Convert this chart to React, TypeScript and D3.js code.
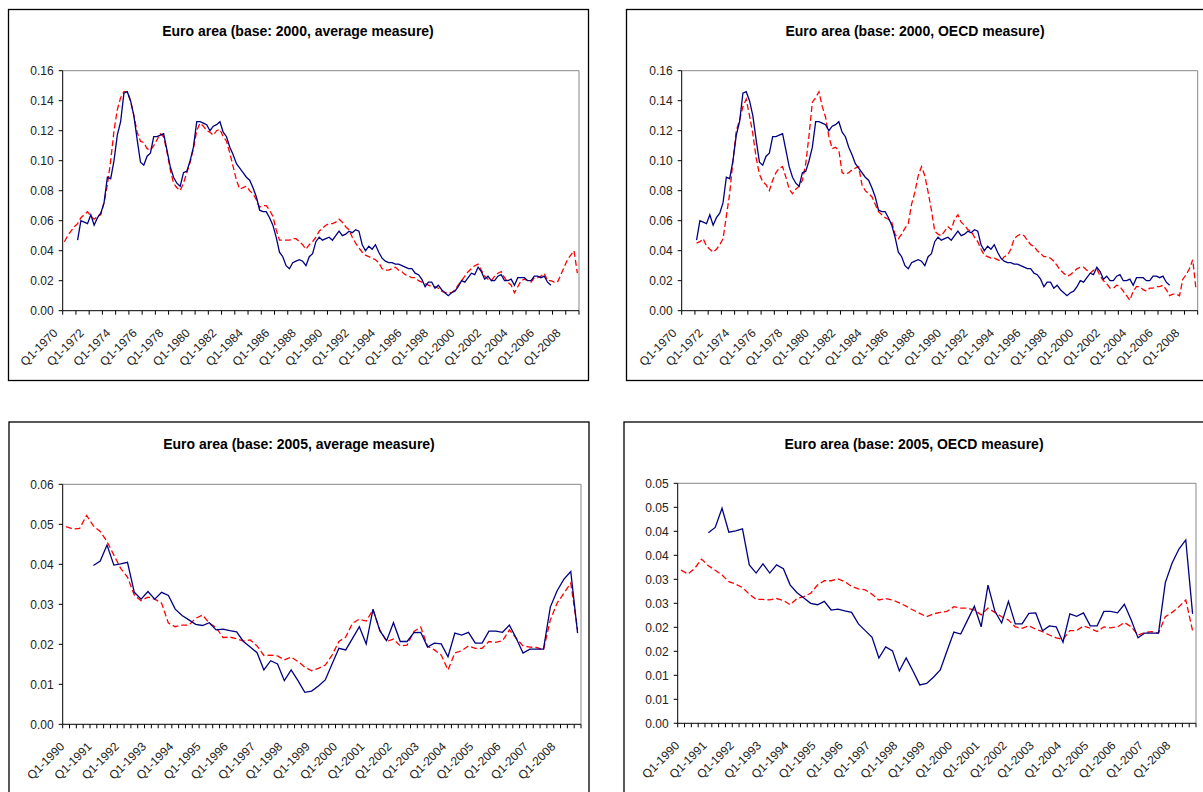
import React from "react";
import * as d3 from "d3";

// quarterly categories
const topQuarters = d3.range(1970, 2009).flatMap((y) => [1, 2, 3, 4].map((q) => `Q${q}-${y}`));
const bottomQuarters = d3.range(1990, 2009).flatMap((y) => [1, 2, 3, 4].map((q) => `Q${q}-${y}`));

const topTickLabels = [
  "Q1-1970", "Q1-1972", "Q1-1974", "Q1-1976", "Q1-1978", "Q1-1980", "Q1-1982",
  "Q1-1984", "Q1-1986", "Q1-1988", "Q1-1990", "Q1-1992", "Q1-1994", "Q1-1996",
  "Q1-1998", "Q1-2000", "Q1-2002", "Q1-2004", "Q1-2006", "Q1-2008",
];
const bottomTickLabels = [
  "Q1-1990", "Q1-1991", "Q1-1992", "Q1-1993", "Q1-1994", "Q1-1995", "Q1-1996",
  "Q1-1997", "Q1-1998", "Q1-1999", "Q1-2000", "Q1-2001", "Q1-2002", "Q1-2003",
  "Q1-2004", "Q1-2005", "Q1-2006", "Q1-2007", "Q1-2008",
];

const topYTicks = [0, 0.02, 0.04, 0.06, 0.08, 0.1, 0.12, 0.14, 0.16];
const topYLabels = ["0.00", "0.02", "0.04", "0.06", "0.08", "0.10", "0.12", "0.14", "0.16"];
const avgYTicks = [0, 0.01, 0.02, 0.03, 0.04, 0.05, 0.06];
const avgYLabels = ["0.00", "0.01", "0.02", "0.03", "0.04", "0.05", "0.06"];
const oecdYTicks = [0, 0.005, 0.01, 0.015, 0.02, 0.025, 0.03, 0.035, 0.04, 0.045, 0.05];
const oecdYLabels = ["0.00", "0.01", "0.01", "0.02", "0.02", "0.03", "0.03", "0.04", "0.04", "0.05", "0.05"];

const n = null;

// base 2000, 1970Q1-2008Q4
const topActual = [
  n, n, n, n, .047, .060, .059, .058,
  .064, .057, .062, .065, .072, .089, .088, .100,
  .117, .126, .145, .146, .140, .130, .114, .099,
  .097, .103, .105, .116, .116, .117, .118, .107,
  .096, .089, .085, .083, .092, .093, .100, .109,
  .126, .126, .125, .124, .120, .123, .124, .126,
  .119, .116, .109, .104, .098, .095, .092, .089,
  .087, .082, .076, .067, .066, .066, .062, .057,
  .049, .039, .036, .030, .028, .032, .033, .034,
  .033, .030, .036, .038, .046, .049, .047, .048,
  .049, .047, .050, .053, .050, .051, .053, .052,
  .054, .053, .044, .040, .043, .041, .044, .039,
  .035, .033, .032, .032, .031, .031, .030, .029,
  .028, .028, .025, .024, .021, .016, .019, .019,
  .015, .017, .014, .012, .010, .012, .013, .016,
  .020, .019, .022, .025, .024, .029, .026, .021,
  .023, .020, .020, .023, .024, .020, .020, .021,
  .017, .022, .022, .022, .020, .020, .023, .023,
  .022, .023, .019, .017, n, n, n, n,
  n, n, n, n,
];

const topAverage = [
  .046, .050, .053, .056, .058, .062, .064, .066,
  .063, .061, .063, .064, .072, .084, .100, .120,
  .134, .142, .146, .146, .140, .130, .119, .113,
  .112, .108, .107, .110, .114, .118, .116, .106,
  .094, .085, .082, .080, .085, .092, .099, .108,
  .120, .125, .123, .120, .119, .117, .120, .121,
  .116, .113, .105, .096, .087, .081, .082, .083,
  .080, .078, .074, .069, .070, .070, .067, .063,
  .054, .047, .047, .047, .047, .048, .048, .046,
  .044, .041, .044, .046, .049, .053, .055, .057,
  .058, .058, .059, .061, .059, .056, .054, .049,
  .045, .042, .039, .037, .036, .035, .034, .032,
  .028, .027, .027, .028, .029, .027, .026, .024,
  .023, .022, .022, .020, .019, .018, .017, .016,
  .016, .015, .013, .012, .012, .012, .014, .017,
  .020, .023, .026, .028, .030, .031, .027, .023,
  .021, .020, .023, .025, .026, .022, .019, .017,
  .012, .016, .020, .021, .020, .019, .022, .022,
  .023, .025, .020, .020, .019, .019, .024, .029,
  .034, .037, .040, .025,
];

const topOecd = [
  n, n, n, n, .045, .046, .048, .043,
  .041, .039, .041, .044, .048, .063, .078, .100,
  .120, .127, .136, .141, .130, .118, .102, .091,
  .086, .084, .080, .087, .092, .095, .096, .089,
  .081, .078, .081, .083, .087, .098, .117, .139,
  .142, .146, .136, .129, .116, .108, .109, .107,
  .092, .091, .092, .094, .095, .096, .084, .080,
  .078, .076, .071, .066, .064, .062, .061, .059,
  .051, .048, .051, .055, .058, .071, .079, .090,
  .096, .090, .079, .067, .053, .051, .050, .053,
  .056, .054, .061, .064, .059, .057, .054, .053,
  .049, .046, .041, .037, .036, .035, .035, .034,
  .033, .036, .037, .041, .048, .050, .051, .050,
  .047, .044, .043, .040, .038, .036, .036, .035,
  .033, .030, .027, .025, .023, .024, .026, .028,
  .029, .029, .027, .025, .027, .028, .023, .020,
  .018, .015, .015, .017, .016, .013, .010, .007,
  .013, .016, .016, .014, .013, .015, .015, .016,
  .016, .017, .014, .010, .011, .011, .010, .021,
  .024, .028, .034, .014,
];

// base 2005, 1990Q1-2008Q4
const bottomActual = [
  n, n, n, n, .0397, .0408, .0448, .0398,
  .0401, .0405, .0330, .0313, .0332, .0313, .0330, .0322,
  .0288, .0272, .0261, .0250, .0247, .0254, .0236, .0238,
  .0234, .0231, .0207, .0193, .0179, .0136, .0159, .0151,
  .0109, .0136, .0109, .0080, .0083, .0096, .0111, .0151,
  .0190, .0186, .0215, .0244, .0201, .0288, .0234, .0209,
  .0254, .0207, .0207, .0229, .0230, .0193, .0203, .0201,
  .0169, .0228, .0223, .0230, .0203, .0203, .0233, .0233,
  .0230, .0248, .0215, .0178, .0188, .0188, .0188, .0293,
  .0334, .0363, .0382, .0228,
];

const bottomAverage = [
  .0494, .0488, .0490, .0522, .0496, .0482, .0457, .0423,
  .0390, .0368, .0323, .0309, .0318, .0313, .0303, .0253,
  .0244, .0248, .0248, .0265, .0273, .0253, .0242, .0217,
  .0218, .0214, .0208, .0211, .0196, .0172, .0173, .0171,
  .0161, .0168, .0157, .0143, .0134, .0140, .0148, .0173,
  .0207, .0218, .0253, .0263, .0258, .0286, .0236, .0207,
  .0213, .0196, .0198, .0232, .0243, .0195, .0186, .0173,
  .0136, .0178, .0184, .0196, .0190, .0190, .0207, .0205,
  .0209, .0236, .0215, .0196, .0193, .0192, .0186, .0261,
  .0303, .0328, .0353, .0236,
];

const bottomOecd = [
  .0319, .0311, .0323, .0342, .0328, .0319, .0309, .0295,
  .0290, .0283, .0269, .0258, .0258, .0257, .0260, .0256,
  .0247, .0260, .0264, .0271, .0288, .0297, .0297, .0301,
  .0295, .0285, .0280, .0278, .0269, .0257, .0260, .0257,
  .0251, .0244, .0236, .0229, .0222, .0228, .0231, .0233,
  .0243, .0240, .0240, .0236, .0226, .0240, .0231, .0222,
  .0215, .0201, .0198, .0203, .0196, .0191, .0184, .0178,
  .0175, .0193, .0193, .0203, .0198, .0191, .0201, .0199,
  .0201, .0210, .0201, .0184, .0189, .0191, .0188, .0222,
  .0231, .0243, .0257, .0193,
];

const FONT = "'Liberation Sans', Arial, sans-serif";

interface Rect { x: number; y: number; w: number; h: number }
interface PanelProps {
  box: Rect;
  plot: Rect;
  title: string;
  titleX: number;
  titleY: number;
  categories: string[];
  tickEvery: number;
  tickLabels: string[];
  labelDx: number;
  labelDy: number;
  yTicks: number[];
  yLabels: string[];
  actual: (number | null)[];
  estimate: (number | null)[];
}

function Panel(props: PanelProps) {
  const {
    box, plot, title, titleX, titleY, categories, tickEvery, tickLabels,
    labelDx, labelDy, yTicks, yLabels, actual, estimate,
  } = props;

  const x = d3.scaleBand<string>().domain(categories).range([plot.x, plot.x + plot.w]).padding(0);
  const y = d3.scaleLinear().domain([0, yTicks[yTicks.length - 1]]).range([plot.y + plot.h, plot.y]);
  const bw = x.bandwidth();
  const bottom = plot.y + plot.h;

  const line = d3
    .line<number | null>()
    .defined((d) => d != null)
    .x((_, i) => x(categories[i])! + bw / 2)
    .y((d) => y(d as number));

  const tickXs = d3.range(0, categories.length + 1, tickEvery).map((k) =>
    k < categories.length ? x(categories[k])! : plot.x + plot.w
  );

  return (
    <g>
      <rect x={box.x} y={box.y} width={box.w} height={box.h} fill="#fff" stroke="#000" strokeWidth={1.3} />
      <text x={titleX} y={titleY} textAnchor="middle" fontFamily={FONT} fontWeight="bold" fontSize={14} fill="#000">
        {title}
      </text>
      {/* plot area frame */}
      <line x1={plot.x} x2={plot.x + plot.w} y1={plot.y} y2={plot.y} stroke="#888" />
      <line x1={plot.x + plot.w} x2={plot.x + plot.w} y1={plot.y} y2={bottom} stroke="#888" />
      {/* y axis */}
      <line x1={plot.x} x2={plot.x} y1={plot.y} y2={bottom} stroke="#000" />
      {yTicks.map((t, i) => (
        <g key={i}>
          <line x1={plot.x - 4} x2={plot.x} y1={y(t)} y2={y(t)} stroke="#000" />
          <text x={plot.x - 9} y={y(t)} dy="0.35em" textAnchor="end" fontFamily={FONT} fontSize={12} fill="#222">
            {yLabels[i]}
          </text>
        </g>
      ))}
      {/* x axis */}
      <line x1={plot.x} x2={plot.x + plot.w} y1={bottom} y2={bottom} stroke="#000" />
      {tickXs.map((tx, i) => (
        <line key={i} x1={tx} x2={tx} y1={bottom} y2={bottom + 4} stroke="#000" />
      ))}
      {tickLabels.map((lab) => {
        const cx = x(lab)! + bw / 2;
        return (
          <text
            key={lab}
            transform={`translate(${cx + labelDx},${bottom + labelDy}) rotate(-45)`}
            textAnchor="end"
            fontFamily={FONT}
            fontSize={12}
            fill="#222"
          >
            {lab}
          </text>
        );
      })}
      <path d={line(estimate) ?? ""} fill="none" stroke="#ff0000" strokeWidth={1.3} strokeDasharray="6,3" />
      <path d={line(actual) ?? ""} fill="none" stroke="#000080" strokeWidth={1.3} />
    </g>
  );
}

export default function App() {
  return (
    <svg width={1203} height={792} style={{ position: "absolute", left: 0, top: 0, background: "#fff" }}>
      <Panel
        box={{ x: 8.5, y: 9.5, w: 580, h: 371 }}
        plot={{ x: 62.7, y: 70.7, w: 516.3, h: 240 }}
        title="Euro area (base: 2000, average measure)"
        titleX={298}
        titleY={36}
        categories={topQuarters}
        tickEvery={4}
        tickLabels={topTickLabels}
        labelDx={-6}
        labelDy={23}
        yTicks={topYTicks}
        yLabels={topYLabels}
        actual={topActual}
        estimate={topAverage}
      />
      <Panel
        box={{ x: 626.5, y: 9.5, w: 600, h: 371 }}
        plot={{ x: 681.7, y: 70.7, w: 516, h: 240 }}
        title="Euro area (base: 2000, OECD measure)"
        titleX={915}
        titleY={36}
        categories={topQuarters}
        tickEvery={4}
        tickLabels={topTickLabels}
        labelDx={-6}
        labelDy={23}
        yTicks={topYTicks}
        yLabels={topYLabels}
        actual={topActual}
        estimate={topOecd}
      />
      <Panel
        box={{ x: 9, y: 422, w: 580, h: 400 }}
        plot={{ x: 62.7, y: 484.3, w: 518.3, h: 240 }}
        title="Euro area (base: 2005, average measure)"
        titleX={299}
        titleY={449}
        categories={bottomQuarters}
        tickEvery={1}
        tickLabels={bottomTickLabels}
        labelDx={-1}
        labelDy={23}
        yTicks={avgYTicks}
        yLabels={avgYLabels}
        actual={bottomActual}
        estimate={bottomAverage}
      />
      <Panel
        box={{ x: 624, y: 422, w: 600, h: 400 }}
        plot={{ x: 677.7, y: 483.3, w: 518.3, h: 240 }}
        title="Euro area (base: 2005, OECD measure)"
        titleX={914}
        titleY={449}
        categories={bottomQuarters}
        tickEvery={1}
        tickLabels={bottomTickLabels}
        labelDx={-1}
        labelDy={23}
        yTicks={oecdYTicks}
        yLabels={oecdYLabels}
        actual={bottomActual}
        estimate={bottomOecd}
      />
    </svg>
  );
}
